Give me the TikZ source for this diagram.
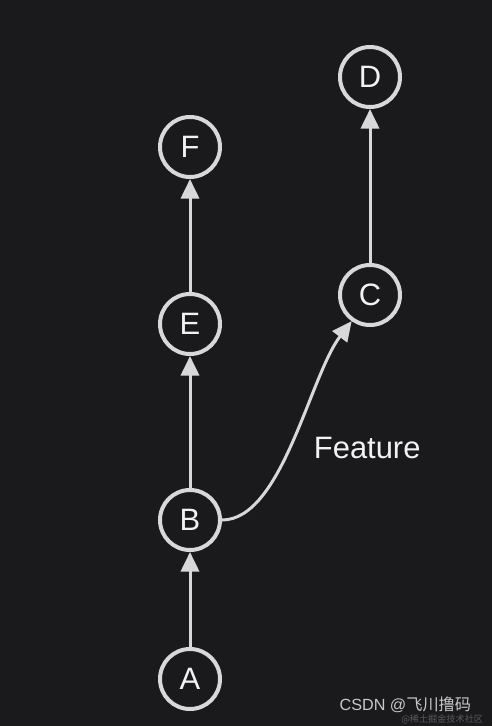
\documentclass[tikz,border=0pt]{standalone}
\usepackage{fontspec}
\setmainfont{Liberation Sans}
\newfontfamily\cjkfont{Noto Sans CJK SC}
\usetikzlibrary{arrows.meta}
\definecolor{canvas}{RGB}{26, 26, 28}
\definecolor{ring}  {RGB}{216, 216, 216}
\definecolor{label} {RGB}{242, 242, 242}
\definecolor{mark}  {RGB}{200, 200, 200}
\definecolor{faint} {RGB}{90, 90, 92}

\tikzset{
  commit/.style={circle, draw=ring, line width=0.1cm, minimum size=1.5cm,
    inner sep=0pt, text=label, font=\fontsize{22}{24}\selectfont},
  link/.style={draw=ring, line width=0.075cm,
    -{Triangle[length=14pt, width=13pt]}}
}

\begin{document}
\begin{tikzpicture}
  % Canvas
  \fill[canvas] (0,0) rectangle (12.3,-18.15);
  \useasboundingbox (0,0) rectangle (12.3,-18.15);

  % Main line
  \node[commit] (A) at (4.75,-16.975) {A};
  \node[commit] (B) at (4.75,-13.0) {B};
  \node[commit] (E) at (4.75,-8.1) {E};
  \node[commit] (F) at (4.75,-3.675) {F};

  % Feature line
  \node[commit] (C) at (9.25,-7.375) {C};
  \node[commit] (D) at (9.25,-1.925) {D};

  % Parent links
  \draw[link] (A) -- (B);
  \draw[link] (B) -- (E);
  \draw[link] (E) -- (F);
  \draw[link] (C) -- (D);
  \draw[link] (B.east) .. controls +(1.5,0) and +(-1.05,-1.375) .. (C.235);

  % Branch name
  \node[text=label, font=\fontsize{22}{24}\selectfont] (feature) at (9.18,-11.2) {Feature};

  % Watermark
  \node[text=mark, font=\fontsize{11.5}{13}\selectfont, anchor=east] (csdn) at (11.9,-17.62) {CSDN @\cjkfont 飞川撸码};
  \node[text=faint, font=\fontsize{6.5}{7}\selectfont, anchor=east] (juejin) at (12.2,-17.98) {\cjkfont @稀土掘金技术社区};
\end{tikzpicture}
\end{document}
